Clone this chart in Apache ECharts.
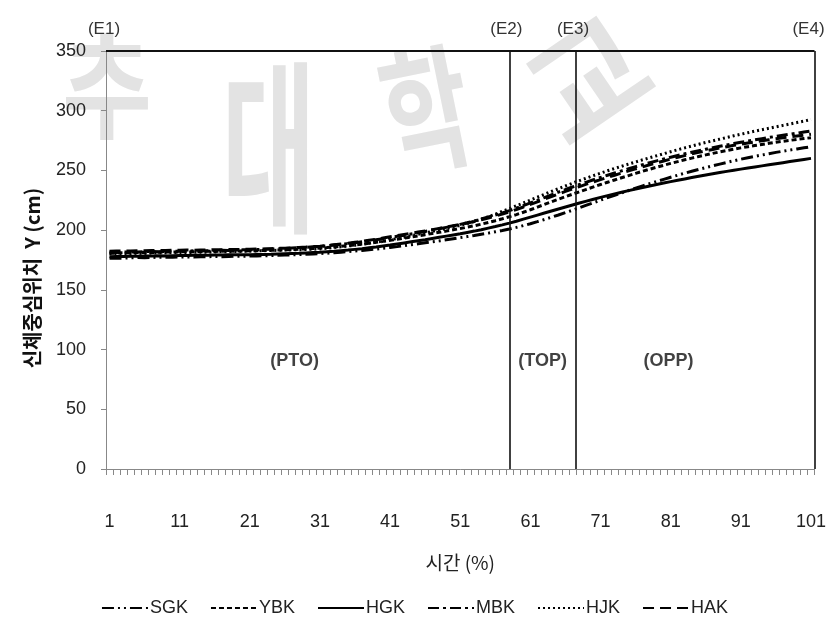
<!DOCTYPE html>
<html>
<head>
<meta charset="utf-8">
<script src="https://cdn.jsdelivr.net/npm/echarts@6/dist/echarts.min.js"></script>
<style>
  html, body { margin: 0; padding: 0; background: #fff; }
  #chart { width: 829px; height: 617px; }
</style>
</head>
<body>
<div id="chart"></div>
<script>
// Body centre position Y (cm) over normalised time (%), one value per 1 % step (1..101)
const SGK = [
  176.4, 176.6, 176.5, 176.8, 177.0, 176.9, 177.1, 177.3, 177.2, 177.4,
  177.5, 177.6, 177.5, 177.7, 177.8, 177.9, 177.8, 178.0, 178.1, 178.2,
  178.3, 178.4, 178.5, 178.7, 178.9, 179.1, 179.3, 179.5, 179.8, 180.1,
  180.4, 180.7, 181.1, 181.5, 182.0, 182.5, 183.0, 183.6, 184.2, 184.8,
  185.5, 186.2, 187.0, 187.8, 188.6, 189.4, 190.2, 191.0, 191.9, 192.8,
  193.7, 194.6, 195.5, 196.5, 197.5, 198.6, 199.7, 200.9, 202.3, 203.8,
  205.4, 207.1, 208.9, 210.8, 212.7, 214.7, 216.7, 218.8, 220.9, 223.0,
  225.1, 227.2, 229.2, 231.2, 233.2, 235.1, 237.0, 238.9, 240.7, 242.5,
  244.3, 246.0, 247.7, 249.3, 250.9, 252.4, 253.9, 255.3, 256.7, 258.1,
  259.4, 260.6, 261.8, 262.9, 264.0, 265.1, 266.1, 267.1, 268.0, 268.9, 269.8
];
const YBK = [
  180.6, 180.8, 181.0, 180.9, 181.2, 181.4, 181.3, 181.5, 181.7, 181.6,
  181.8, 182.0, 181.9, 182.1, 182.3, 182.2, 182.4, 182.5, 182.4, 182.6,
  182.7, 182.8, 183.0, 183.1, 183.3, 183.5, 183.7, 184.0, 184.3, 184.6,
  185.0, 185.4, 185.9, 186.4, 187.0, 187.6, 188.3, 189.0, 189.8, 190.6,
  191.5, 192.4, 193.3, 194.2, 195.2, 196.2, 197.2, 198.2, 199.2, 200.3,
  201.4, 202.5, 203.7, 205.0, 206.4, 207.9, 209.5, 211.2, 213.0, 215.0,
  217.1, 219.3, 221.5, 223.7, 225.9, 228.0, 230.1, 232.2, 234.2, 236.2,
  238.2, 240.1, 242.0, 243.9, 245.7, 247.5, 249.3, 251.0, 252.7, 254.3,
  255.9, 257.4, 258.9, 260.3, 261.7, 263.0, 264.3, 265.5, 266.7, 267.8,
  268.9, 269.9, 270.9, 271.8, 272.7, 273.6, 274.4, 275.2, 276.0, 276.7, 277.4
];
const HGK = [
  177.8, 177.9, 178.0, 178.2, 178.1, 178.3, 178.4, 178.5, 178.4, 178.6,
  178.7, 178.8, 178.9, 179.0, 179.0, 179.1, 179.2, 179.3, 179.3, 179.4,
  179.5, 179.6, 179.7, 179.8, 180.0, 180.2, 180.4, 180.6, 180.9, 181.2,
  181.5, 181.9, 182.3, 182.8, 183.3, 183.9, 184.5, 185.2, 185.9, 186.7,
  187.5, 188.4, 189.3, 190.2, 191.1, 192.0, 193.0, 194.0, 195.0, 196.0,
  197.0, 198.1, 199.2, 200.4, 201.7, 203.0, 204.4, 205.9, 207.5, 209.2,
  210.9, 212.6, 214.3, 216.0, 217.7, 219.4, 221.1, 222.7, 224.3, 225.9,
  227.4, 228.9, 230.3, 231.7, 233.1, 234.4, 235.7, 237.0, 238.2, 239.4,
  240.6, 241.8, 242.9, 244.0, 245.1, 246.2, 247.2, 248.2, 249.2, 250.2,
  251.1, 252.0, 252.9, 253.8, 254.7, 255.6, 256.5, 257.4, 258.3, 259.2, 260.1
];
const MBK = [
  181.5, 181.3, 181.6, 181.8, 181.7, 182.0, 182.1, 181.9, 182.2, 182.4,
  182.3, 182.5, 182.7, 182.6, 182.8, 183.0, 183.1, 183.0, 183.3, 183.5,
  183.6, 183.8, 184.0, 184.2, 184.4, 184.7, 185.0, 185.3, 185.6, 186.0,
  186.4, 186.9, 187.5, 188.1, 188.8, 189.5, 190.3, 191.1, 192.0, 192.9,
  193.8, 194.8, 195.8, 196.8, 197.8, 198.9, 200.0, 201.1, 202.3, 203.5,
  204.8, 206.2, 207.7, 209.3, 211.0, 212.7, 214.5, 216.3, 218.4, 220.6,
  222.8, 225.0, 227.3, 229.6, 231.8, 234.0, 236.1, 238.2, 240.2, 242.2,
  244.1, 246.0, 247.8, 249.6, 251.4, 253.1, 254.8, 256.4, 258.0, 259.6,
  261.1, 262.5, 263.9, 265.2, 266.5, 267.8, 269.0, 270.2, 271.4, 272.5,
  273.6, 274.6, 275.6, 276.6, 277.6, 278.5, 279.4, 280.3, 281.2, 282.1, 283.0
];
const HJK = [
  180.2, 180.0, 180.1, 180.4, 180.6, 180.5, 180.8, 181.0, 180.9, 181.1,
  181.3, 181.2, 181.4, 181.6, 181.5, 181.8, 182.0, 181.9, 182.1, 182.3,
  182.4, 182.6, 182.8, 183.0, 183.1, 183.3, 183.5, 183.6, 183.8, 184.0,
  184.3, 184.8, 185.4, 186.0, 186.7, 187.4, 188.2, 189.0, 189.9, 190.9,
  191.9, 193.0, 194.1, 195.3, 196.5, 197.7, 198.9, 200.1, 201.4, 202.7,
  204.0, 205.6, 207.3, 209.2, 211.2, 213.4, 215.7, 218.0, 220.4, 222.8,
  225.2, 227.6, 230.0, 232.4, 234.7, 237.0, 239.3, 241.5, 243.6, 245.7,
  247.7, 249.7, 251.6, 253.5, 255.3, 257.1, 258.9, 260.6, 262.3, 264.0,
  265.7, 267.3, 268.9, 270.4, 271.9, 273.4, 274.8, 276.2, 277.6, 279.0,
  280.3, 281.6, 282.9, 284.1, 285.3, 286.5, 287.7, 288.9, 290.1, 291.3, 292.6
];
const HAK = [
  182.3, 182.5, 182.4, 182.6, 182.8, 182.7, 182.9, 183.0, 182.9, 183.1,
  183.2, 183.3, 183.2, 183.4, 183.5, 183.6, 183.5, 183.7, 183.8, 183.9,
  184.0, 184.2, 184.3, 184.5, 184.7, 184.9, 185.2, 185.5, 185.8, 186.2,
  186.6, 187.1, 187.7, 188.3, 189.0, 189.8, 190.6, 191.5, 192.4, 193.4,
  194.4, 195.4, 196.4, 197.4, 198.4, 199.4, 200.4, 201.5, 202.6, 203.7,
  204.8, 206.0, 207.3, 208.7, 210.2, 211.8, 213.5, 215.3, 217.3, 219.4,
  221.5, 223.7, 225.9, 228.1, 230.3, 232.4, 234.5, 236.5, 238.5, 240.4,
  242.3, 244.2, 246.0, 247.8, 249.6, 251.3, 253.0, 254.7, 256.3, 257.9,
  259.5, 261.0, 262.4, 263.8, 265.1, 266.4, 267.6, 268.8, 269.9, 271.0,
  272.0, 273.0, 273.9, 274.8, 275.7, 276.5, 277.3, 278.1, 278.8, 279.5, 280.2
];

const seriesNames = ['SGK', 'YBK', 'HGK', 'MBK', 'HJK', 'HAK'];
const seriesValues = [SGK, YBK, HGK, MBK, HJK, HAK];
const seriesDash = [[12, 4, 2, 4, 2, 4], [5, 3], 'solid', [11, 4, 3, 4], [2, 3], [11, 6]];

// x-axis tick labels (%) and y-axis range
const xTickLabels = [1, 11, 21, 31, 41, 51, 61, 71, 81, 91, 101];
const yMin = 0, yMax = 350, yStep = 50;

// event boundaries (E1..E4) and phase names
const eventNames = ['(E1)', '(E2)', '(E3)', '(E4)'];
const eventPositions = [0.5, 58, 67.5, 101.5];
const phaseNames = ['(PTO)', '(TOP)', '(OPP)'];
const phaseCentres = [27.4, 62.75, 80.7];
const phaseLevel = 90;

const latin = "'Liberation Sans', Arial, sans-serif";
const korean = "'Noto Sans CJK KR', 'Noto Sans', sans-serif";

const chart = echarts.init(document.getElementById('chart'), null, { renderer: 'canvas' });

const minorTicks = [];
for (let i = 0; i <= 101; i++) minorTicks.push(i + 0.5);

const lineSeries = seriesNames.map((name, k) => ({
  name: name,
  type: 'line',
  symbol: 'none',
  smooth: false,
  z: 3,
  lineStyle: { color: '#000', width: 3, type: seriesDash[k] },
  itemStyle: { color: '#000' },
  data: seriesValues[k].map((v, i) => [i + 1, v])
}));

const eventLines = eventNames.map((label, i) => ({
  xAxis: eventPositions[i],
  lineStyle: { color: i === 0 ? '#888' : '#111', width: i === 0 ? 1 : 1.6, type: 'solid' },
  label: {
    show: true,
    position: 'end',
    formatter: label,
    distance: 13,
    color: '#333',
    fontSize: 17,
    fontFamily: latin,
    offset: [i === 0 ? -2 : (i === 3 ? -6 : -3), 0]
  }
}));

const wm = '#e3e3e3';

const option = {
  backgroundColor: '#fff',
  animation: false,
  grid: { left: 106, right: 14, top: 51, bottom: 148, containLabel: false },
  graphic: [
    // faint background lettering
    { type: 'text', left: 62, top: 28, z: -10, silent: true,
      style: { text: '추', fontSize: 115, fontWeight: 'bold', fontFamily: korean, fill: wm }, scaleX: 0.85 },
    { type: 'text', left: 222, top: 55, z: -10, silent: true,
      style: { text: '대', fontSize: 185, fontWeight: 'bold', fontFamily: korean, fill: wm }, scaleX: 0.55 },
    { type: 'text', left: 370, top: 35, z: -10, silent: true, rotation: 0.2,
      style: { text: '학', fontSize: 135, fontWeight: 'bold', fontFamily: korean, fill: wm }, scaleX: 0.7 },
    { type: 'text', left: 505, top: -5, z: -10, silent: true, rotation: 0.6,
      style: { text: '교', fontSize: 125, fontWeight: 'bold', fontFamily: korean, fill: wm } },
    // vertical y-axis title
    { type: 'text', x: 32, y: 278, rotation: Math.PI / 2, z: 10,
      style: { text: '신체중심위치  Y (cm)', fontSize: 20, fontWeight: 'bold', fontFamily: korean,
               fill: '#111', align: 'center', verticalAlign: 'middle' } }
  ],
  legend: {
    data: seriesNames,
    left: 'center',
    top: 594,
    itemWidth: 46,
    itemHeight: 14,
    itemGap: 22,
    itemStyle: { opacity: 0, borderWidth: 0 },
    textStyle: { fontSize: 18, fontFamily: latin, color: '#222', padding: [0, 0, 0, -3] }
  },
  xAxis: {
    type: 'value',
    min: 0.5,
    max: 101.5,
    name: '시간 (%)',
    nameLocation: 'middle',
    nameGap: 84,
    nameTextStyle: { fontSize: 19, fontFamily: korean, color: '#222' },
    axisLine: { show: true, onZero: false, lineStyle: { color: '#888', width: 1 } },
    axisTick: { show: true, customValues: minorTicks, length: 6, inside: false, lineStyle: { color: '#888' } },
    axisLabel: { customValues: xTickLabels, margin: 44, fontSize: 18, fontFamily: latin, color: '#222' },
    splitLine: { show: false }
  },
  yAxis: {
    type: 'value',
    min: yMin,
    max: yMax,
    interval: yStep,
    axisLine: { show: true, lineStyle: { color: '#888', width: 1 } },
    axisTick: { show: true, length: 5, lineStyle: { color: '#888' } },
    axisLabel: { margin: 20, fontSize: 18, fontFamily: latin, color: '#222' },
    splitLine: { show: false }
  },
  series: lineSeries.concat([
    {
      name: 'events',
      type: 'line',
      data: [],
      z: 4,
      markLine: {
        silent: true,
        symbol: ['none', 'none'],
        animation: false,
        data: eventLines.concat([
          { yAxis: yMax, lineStyle: { color: '#111', width: 1.8, type: 'solid' }, label: { show: false } }
        ])
      }
    },
    {
      name: 'phases',
      type: 'scatter',
      symbolSize: 0,
      z: 5,
      label: {
        show: true,
        position: 'inside',
        formatter: p => p.name,
        fontSize: 18,
        fontWeight: 'bold',
        fontFamily: latin,
        color: '#111'
      },
      data: phaseNames.map((n, i) => ({ name: n, value: [phaseCentres[i], phaseLevel] }))
    }
  ])
};

chart.setOption(option);
</script>
</body>
</html>
